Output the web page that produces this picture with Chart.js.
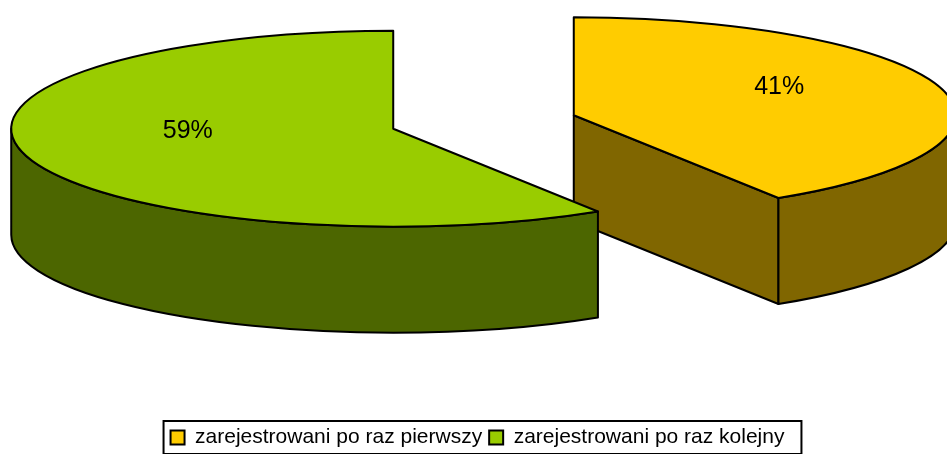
<!DOCTYPE html>
<html>
<head>
<meta charset="utf-8">
<script src="https://cdn.jsdelivr.net/npm/chart.js@4/dist/chart.umd.min.js"></script>
<style>
  html, body { margin: 0; padding: 0; background: #fff; }
  #wrap { width: 947px; height: 454px; position: relative; }
</style>
</head>
<body>
<div id="wrap"><canvas id="pie"></canvas></div>
<script>
const categories = ['zarejestrowani po raz pierwszy', 'zarejestrowani po raz kolejny'];
const shares = [41, 59];
const topColors = ['#FFCC00', '#99CC00'];
const sideColors = ['#806600', '#4C6600'];

const FONT = '"Liberation Sans", Arial, sans-serif';

// chart.js lays out the arcs, this plugin paints them as a tilted 3d pie
const pie3d = {
  id: 'pie3d',
  beforeDatasetsDraw(chart, args, opts) {
    const ctx = chart.ctx;
    const meta = chart.getDatasetMeta(0);
    const tilt = opts.tilt, depth = opts.depth;

    const slices = meta.data.map((arc, i) => {
      const mid = (arc.startAngle + arc.endAngle) / 2;
      const off = arc.options.offset || 0;
      return {
        i: i,
        a1: arc.startAngle,
        a2: arc.endAngle,
        mid: mid,
        x: arc.x + opts.shiftX + Math.cos(mid) * off,
        y: opts.centerY + Math.sin(mid) * off * tilt,
        rx: arc.outerRadius,
        ry: arc.outerRadius * tilt
      };
    });
    // back slices first
    const order = slices.slice().sort((a, b) => a.y - b.y);

    ctx.save();
    ctx.lineWidth = opts.lineWidth;
    ctx.strokeStyle = '#000';
    ctx.lineJoin = 'round';

    order.forEach(s => {
      const side = sideColors[s.i], top = topColors[s.i];

      // cut faces that look toward the viewer
      [[s.a1, -Math.cos(s.a1)], [s.a2, Math.cos(s.a2)]].forEach(([a, facing]) => {
        if (facing < 1e-6) return;
        const px = s.x + s.rx * Math.cos(a), py = s.y + s.ry * Math.sin(a);
        ctx.beginPath();
        ctx.moveTo(s.x, s.y);
        ctx.lineTo(px, py);
        ctx.lineTo(px, py + depth);
        ctx.lineTo(s.x, s.y + depth);
        ctx.closePath();
        ctx.fillStyle = side;
        ctx.fill();
        ctx.stroke();
      });

      // outer wall, front half only
      for (let k = -1; k <= 1; k++) {
        const lo = Math.max(s.a1, 2 * Math.PI * k);
        const hi = Math.min(s.a2, 2 * Math.PI * k + Math.PI);
        if (hi - lo < 1e-6) continue;
        ctx.beginPath();
        ctx.ellipse(s.x, s.y, s.rx, s.ry, 0, lo, hi, false);
        ctx.ellipse(s.x, s.y + depth, s.rx, s.ry, 0, hi, lo, true);
        ctx.closePath();
        ctx.fillStyle = side;
        ctx.fill();
        ctx.stroke();
      }

      // top
      ctx.beginPath();
      ctx.moveTo(s.x, s.y);
      ctx.ellipse(s.x, s.y, s.rx, s.ry, 0, s.a1, s.a2, false);
      ctx.closePath();
      ctx.fillStyle = top;
      ctx.fill();
      ctx.stroke();
    });

    // percent labels
    ctx.fillStyle = '#000';
    ctx.font = opts.labelSize + 'px ' + FONT;
    ctx.textAlign = 'center';
    ctx.textBaseline = 'middle';
    slices.forEach(s => {
      const r = s.rx * opts.labelPos;
      const lx = s.x + Math.cos(s.mid) * r;
      const ly = s.y + Math.sin(s.mid) * r * tilt - opts.labelLift;
      ctx.fillText(shares[s.i] + '%', lx, ly);
    });
    ctx.restore();
    return false;
  },
  afterDraw(chart) {
    // frame round the legend
    const boxes = chart.legend.legendHitBoxes;
    if (!boxes || !boxes.length) return;
    const left = Math.min(...boxes.map(b => b.left)) - 7;
    const right = Math.max(...boxes.map(b => b.left + b.width)) + 17;
    const top = Math.min(...boxes.map(b => b.top)) - 6;
    const bottom = Math.max(...boxes.map(b => b.top + b.height)) + 6;
    const ctx = chart.ctx;
    ctx.save();
    ctx.strokeStyle = '#000';
    ctx.lineWidth = 2;
    ctx.strokeRect(left, top, right - left, bottom - top);
    ctx.restore();
  }
};

new Chart(document.getElementById('pie'), {
  type: 'pie',
  data: {
    labels: categories,
    datasets: [{
      data: shares,
      backgroundColor: topColors,
      borderColor: '#000',
      borderWidth: 2,
      offset: 94,
      radius: 382
    }]
  },
  options: {
    responsive: true,
    maintainAspectRatio: false,
    animation: false,
    events: [],
    layout: { padding: { left: 8, bottom: -4 } },
    plugins: {
      pie3d: {
        shiftX: 6,
        centerY: 122,
        tilt: 0.2565,
        depth: 106,
        lineWidth: 2,
        labelSize: 25,
        labelPos: 0.56,
        labelLift: 13
      },
      legend: {
        position: 'bottom',
        labels: {
          color: '#000',
          boxWidth: 14,
          boxHeight: 14,
          padding: 7,
          font: { family: FONT, size: 21 }
        }
      },
      tooltip: { enabled: false }
    }
  },
  plugins: [pie3d]
});
</script>
</body>
</html>
